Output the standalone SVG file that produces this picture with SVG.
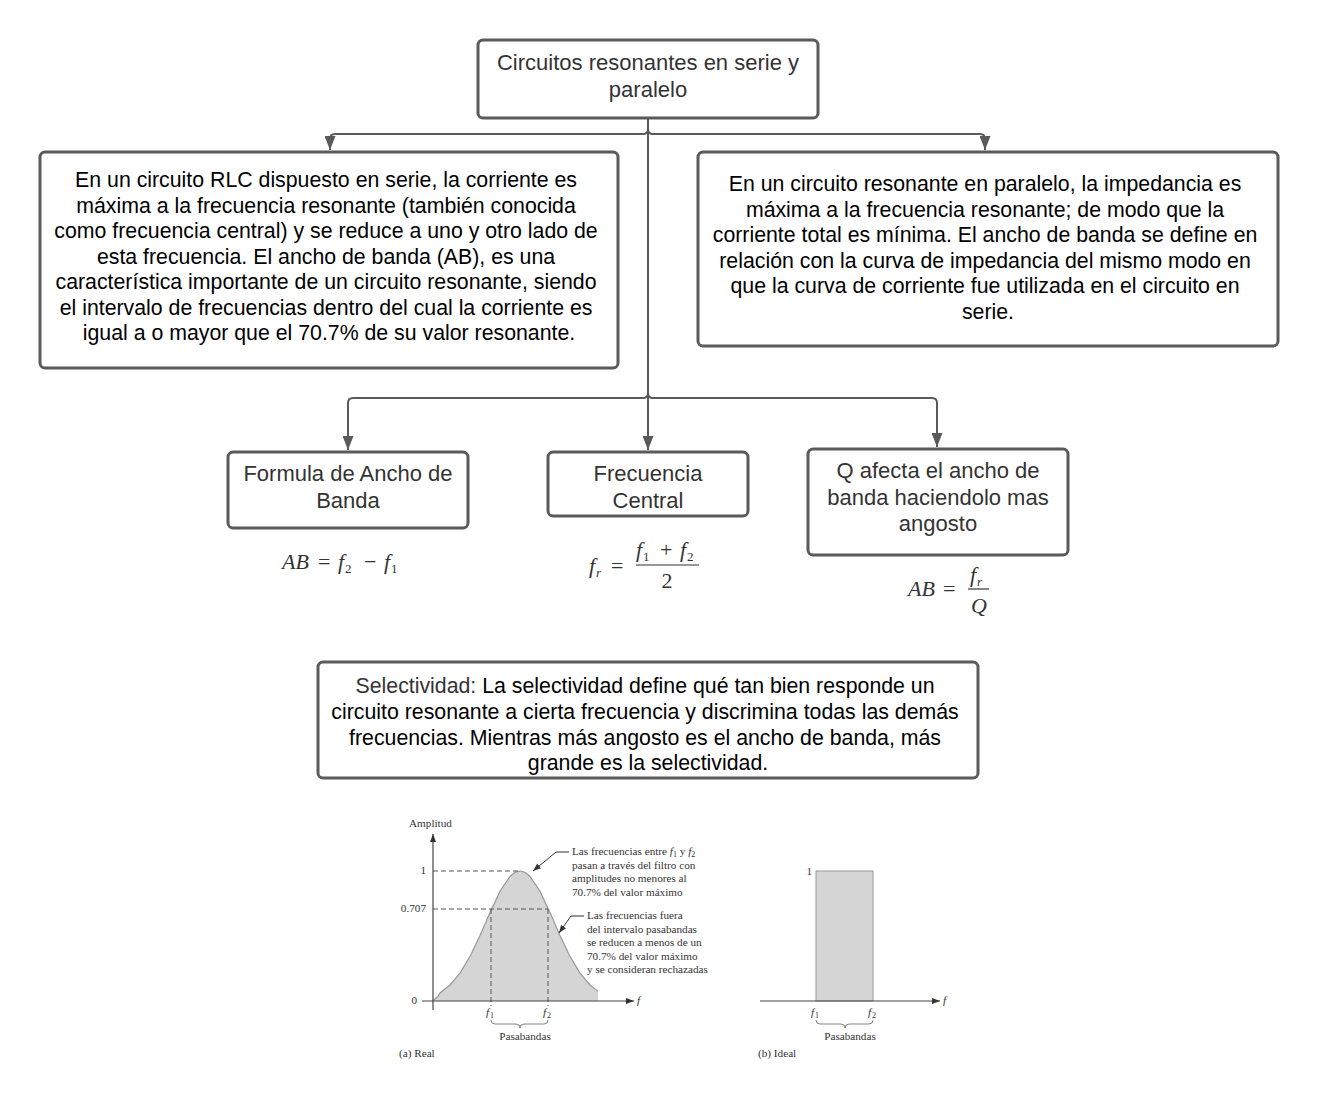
<svg xmlns="http://www.w3.org/2000/svg" width="1318" height="1106" viewBox="0 0 1318 1106">
<defs>
<style>
.box{fill:#fff;stroke:#5a5a5a;stroke-width:3}
.t{font-family:"Liberation Sans",Arial,sans-serif;font-size:21.3px;text-anchor:middle}
.s{font-size:22px}
.dk{fill:#000}
.gr{fill:#333}
.conn{fill:none;stroke:#5a5a5a;stroke-width:2}
.fm{font-family:"Liberation Serif","Times New Roman",serif;font-size:22px;fill:#333}
.it{font-style:italic}
.ch{font-family:"Liberation Serif","Times New Roman",serif;font-size:11.2px;fill:#333}
.ax{fill:none;stroke:#444;stroke-width:1.2}
.dash{fill:none;stroke:#555;stroke-width:1;stroke-dasharray:5 3}
</style>
<marker id="arr" viewBox="0 0 14 11" refX="14" refY="5.5" markerWidth="14" markerHeight="11" markerUnits="userSpaceOnUse" orient="auto">
<path d="M0,0 L14,5.5 L0,11 z" fill="#5a5a5a"/>
</marker>
<marker id="sa" viewBox="0 0 8 6" refX="8" refY="3" markerWidth="8" markerHeight="6" markerUnits="userSpaceOnUse" orient="auto">
<path d="M0,0 L8,3 L0,6 z" fill="#333"/>
</marker>
</defs>
<rect width="1318" height="1106" fill="#fff"/>

<g id="connectors">
<path class="conn" d="M648,118 V129 Q648,134 643,134 H335 Q330,134 330,139 V150" marker-end="url(#arr)"/>
<path class="conn" d="M648,118 V129 Q648,134 653,134 H980 Q985,134 985,139 V150" marker-end="url(#arr)"/>
<path class="conn" d="M648,118 V450" marker-end="url(#arr)"/>
<path class="conn" d="M648,393 Q648,398 643,398 H353 Q348,398 348,403 V450" marker-end="url(#arr)"/>
<path class="conn" d="M648,393 Q648,398 653,398 H932 Q937,398 937,403 V447" marker-end="url(#arr)"/>
</g>

<g id="n-title">
<rect class="box" x="478" y="40" width="340" height="78" rx="5"/>
<text class="t s gr"><tspan x="648" y="70">Circuitos resonantes en serie y</tspan><tspan x="648" y="97">paralelo</tspan></text>
</g>

<g id="n-serie">
<rect class="box" x="40" y="152" width="578" height="216" rx="5"/>
<text class="t dk">
<tspan x="329" y="187">En un circuito RLC dispuesto en serie, la corriente es</tspan>
<tspan x="329" y="212.5">máxima a la frecuencia resonante (también conocida</tspan>
<tspan x="329" y="238">como frecuencia central) y se reduce a uno y otro lado de</tspan>
<tspan x="329" y="263.5">esta frecuencia. El ancho de banda (AB), es una</tspan>
<tspan x="329" y="289">característica importante de un circuito resonante, siendo</tspan>
<tspan x="329" y="314.5">el intervalo de frecuencias dentro del cual la corriente es</tspan>
<tspan x="329" y="340">igual a o mayor que el 70.7% de su valor resonante.</tspan>
</text>
</g>

<g id="n-paralelo">
<rect class="box" x="698" y="152" width="580" height="194" rx="5"/>
<text class="t dk">
<tspan x="988" y="191">En un circuito resonante en paralelo, la impedancia es</tspan>
<tspan x="988" y="216.5">máxima a la frecuencia resonante; de modo que la</tspan>
<tspan x="988" y="242">corriente total es mínima. El ancho de banda se define en</tspan>
<tspan x="988" y="267.5">relación con la curva de impedancia del mismo modo en</tspan>
<tspan x="988" y="293">que la curva de corriente fue utilizada en el circuito en</tspan>
<tspan x="988" y="318.5">serie.</tspan>
</text>
</g>

<g id="n-formula">
<rect class="box" x="228" y="452" width="240" height="76" rx="5"/>
<text class="t s gr"><tspan x="348" y="481">Formula de Ancho de</tspan><tspan x="348" y="508">Banda</tspan></text>
</g>

<g id="n-frecuencia">
<rect class="box" x="548" y="452" width="200" height="64" rx="5"/>
<text class="t s gr"><tspan x="648" y="481">Frecuencia</tspan><tspan x="648" y="508">Central</tspan></text>
</g>

<g id="n-q">
<rect class="box" x="808" y="449" width="260" height="106" rx="5"/>
<text class="t s gr"><tspan x="938" y="478">Q afecta el ancho de</tspan><tspan x="938" y="505">banda haciendolo mas</tspan><tspan x="938" y="531">angosto</tspan></text>
</g>

<g id="n-selectividad">
<rect class="box" x="318" y="662" width="660" height="116" rx="5"/>
<text class="t dk">
<tspan x="648" y="693"><tspan fill="#333">Selectividad:</tspan> La selectividad define qué tan bien responde un</tspan>
<tspan x="648" y="719">circuito resonante a cierta frecuencia y discrimina todas las demás</tspan>
<tspan x="648" y="744.5">frecuencias. Mientras más angosto es el ancho de banda, más</tspan>
<tspan x="648" y="770">grande es la selectividad.</tspan>
</text>
</g>

<g id="formula-ab">
<text class="fm"><tspan class="it" x="282" y="569">AB</tspan><tspan x="318" y="569">=</tspan><tspan class="it" x="338" y="569">f</tspan><tspan x="345" y="573" font-size="13">2</tspan><tspan x="364" y="569">−</tspan><tspan class="it" x="384" y="569">f</tspan><tspan x="391" y="573" font-size="13">1</tspan></text>
</g>

<g id="formula-fr">
<text class="fm"><tspan class="it" x="589" y="573">f</tspan><tspan class="it" x="596" y="577" font-size="13">r</tspan><tspan x="611" y="573">=</tspan><tspan class="it" x="636" y="557">f</tspan><tspan x="643" y="561" font-size="13">1</tspan><tspan x="660" y="557">+</tspan><tspan class="it" x="680" y="557">f</tspan><tspan x="687" y="561" font-size="13">2</tspan><tspan x="667" y="588" text-anchor="middle">2</tspan></text>
<line x1="636" y1="565" x2="699" y2="565" stroke="#333" stroke-width="1.2"/>
</g>

<g id="formula-q">
<text class="fm"><tspan class="it" x="908" y="596">AB</tspan><tspan x="943" y="596">=</tspan><tspan class="it" x="970" y="582">f</tspan><tspan class="it" x="977" y="586" font-size="13">r</tspan><tspan class="it" x="979" y="613" text-anchor="middle">Q</tspan></text>
<line x1="968" y1="589" x2="989" y2="589" stroke="#333" stroke-width="1.2"/>
</g>

<g id="chart-real">
<path d="M433,1001 L433,1000 L440,993 L450,985 L460,973.1 L470,956.4 L480,935.4 L490,912.5 L500,891.4 L510,876.5 L515,872.4 L520,871 L525,872.4 L530,876.5 L540,891.4 L550,912.5 L560,935.4 L570,956.4 L580,973.1 L590,985 L598,991.4 L598,1001 Z" fill="#d5d5d5"/>
<path d="M433,1000 Q437,999 440,993 L450,985 L460,973.1 L470,956.4 L480,935.4 L490,912.5 L500,891.4 L510,876.5 L515,872.4 L520,871 L525,872.4 L530,876.5 L540,891.4 L550,912.5 L560,935.4 L570,956.4 L580,973.1 L590,985 L598,991.4" fill="none" stroke="#999" stroke-width="1.2"/>
<line class="dash" x1="433" y1="871" x2="520" y2="871"/>
<line class="dash" x1="433" y1="909" x2="548" y2="909"/>
<line class="dash" x1="491" y1="909" x2="491" y2="1006"/>
<line class="dash" x1="548" y1="909" x2="548" y2="1006"/>
<line class="ax" x1="433" y1="1010" x2="433" y2="834" marker-end="url(#sa)"/>
<line class="ax" x1="422" y1="1001" x2="634" y2="1001" marker-end="url(#sa)"/>
<text class="ch" x="409" y="827">Amplitud</text>
<text class="ch" x="426" y="874" text-anchor="end">1</text>
<text class="ch" x="426" y="912" text-anchor="end">0.707</text>
<text class="ch" x="417" y="1004" text-anchor="end">0</text>
<text class="ch it" x="637" y="1004">f</text>
<text class="ch"><tspan class="it" x="486" y="1016">f</tspan><tspan x="490" y="1018" font-size="8">1</tspan></text>
<text class="ch"><tspan class="it" x="543" y="1016">f</tspan><tspan x="547" y="1018" font-size="8">2</tspan></text>
<path d="M491,1020 q0,4 4,4 h21 q4,0 4,4 q0,-4 4,-4 h20 q4,0 4,-4" fill="none" stroke="#666" stroke-width="0.8"/>
<text class="ch" x="525" y="1040" text-anchor="middle">Pasabandas</text>
<text class="ch" x="399" y="1057">(a) Real</text>
<path d="M569,852 H556 L533,871" fill="none" stroke="#333" stroke-width="1" marker-end="url(#sa)"/>
<text class="ch"><tspan x="572" y="855">Las frecuencias entre <tspan class="it">f</tspan><tspan font-size="8" dy="2">1</tspan><tspan dy="-2"> y </tspan><tspan class="it">f</tspan><tspan font-size="8" dy="2">2</tspan></tspan><tspan x="572" y="868.5">pasan a través del filtro con</tspan><tspan x="572" y="882">amplitudes no menores al</tspan><tspan x="572" y="895.5">70.7% del valor máximo</tspan></text>
<path d="M584,916 H571 L559,933" fill="none" stroke="#333" stroke-width="1" marker-end="url(#sa)"/>
<text class="ch"><tspan x="587" y="919">Las frecuencias fuera</tspan><tspan x="587" y="932.5">del intervalo pasabandas</tspan><tspan x="587" y="946">se reducen a menos de un</tspan><tspan x="587" y="959.5">70.7% del valor máximo</tspan><tspan x="587" y="973">y se consideran rechazadas</tspan></text>
</g>

<g id="chart-ideal">
<rect x="816" y="871" width="57" height="130" fill="#d5d5d5" stroke="#999" stroke-width="1"/>
<line class="ax" x1="760" y1="1001" x2="940" y2="1001" marker-end="url(#sa)"/>
<text class="ch" x="812" y="875" text-anchor="end">1</text>
<text class="ch it" x="943" y="1004">f</text>
<text class="ch"><tspan class="it" x="811" y="1016">f</tspan><tspan x="815" y="1018" font-size="8">1</tspan></text>
<text class="ch"><tspan class="it" x="868" y="1016">f</tspan><tspan x="872" y="1018" font-size="8">2</tspan></text>
<path d="M816,1020 q0,4 4,4 h21 q4,0 4,4 q0,-4 4,-4 h20 q4,0 4,-4" fill="none" stroke="#666" stroke-width="0.8"/>
<text class="ch" x="850" y="1040" text-anchor="middle">Pasabandas</text>
<text class="ch" x="758" y="1057">(b) Ideal</text>
</g>
</svg>
